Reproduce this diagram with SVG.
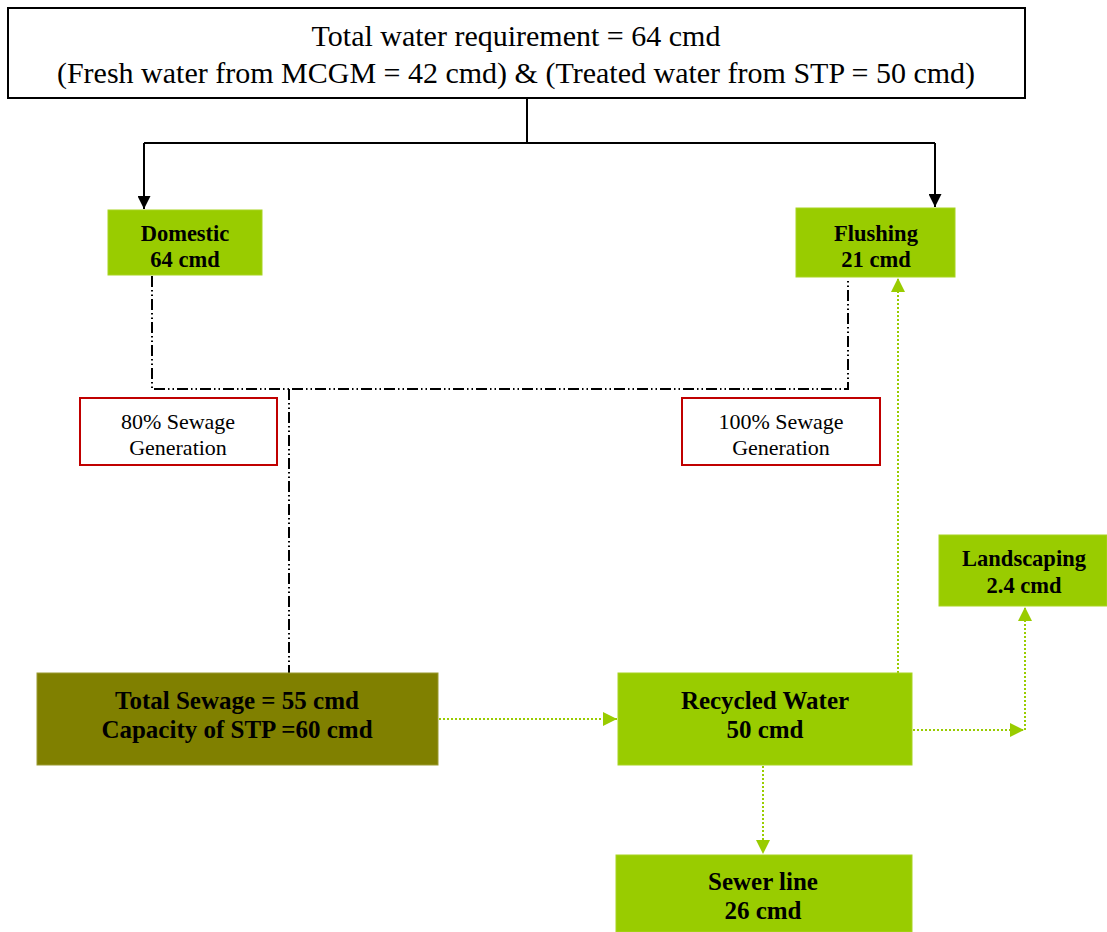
<svg xmlns="http://www.w3.org/2000/svg" width="1107" height="932" viewBox="0 0 1107 932">
<style>
.g{fill:#99CC00;stroke:#A8D420;stroke-width:1}
.o{fill:#808000;stroke:#9a9a30;stroke-width:1}
.r{fill:#fff;stroke:#C00000;stroke-width:2}
.t{font-family:"Liberation Serif",serif;text-anchor:middle;fill:#000}
.b{font-weight:bold;font-size:22.5px}
.bl{font-weight:bold;font-size:25px}
.n{font-size:22px}
.blk{fill:none;stroke:#000;stroke-width:2}
.dd{fill:none;stroke:#000;stroke-width:2;stroke-dasharray:11 3 1.5 3 1.5 3}
.gd{fill:none;stroke:#99CC00;stroke-width:2;stroke-dasharray:2 2}
</style>
<defs>
<marker id="ab" viewBox="0 0 10 10" refX="10" refY="5" markerWidth="15" markerHeight="13" markerUnits="userSpaceOnUse" orient="auto"><path d="M0,0 L10,5 L0,10 Z" fill="#000"/></marker>
<marker id="ag" viewBox="0 0 10 10" refX="10" refY="5" markerWidth="14" markerHeight="14" markerUnits="userSpaceOnUse" orient="auto"><path d="M0,0 L10,5 L0,10 Z" fill="#99CC00"/></marker>
</defs>
<rect width="1107" height="932" fill="#fff"/>
<g id="connectors">
<path class="blk" d="M527,98 V143 M144,143 H935"/>
<path class="blk" d="M144,143 V209" marker-end="url(#ab)"/>
<path class="blk" d="M935,143 V207" marker-end="url(#ab)"/>
<path class="dd" d="M152,276 V389 H848 V278"/>
<path class="dd" d="M289,389 V673"/>
<path class="gd" d="M439,719 H617" marker-end="url(#ag)"/>
<path class="gd" d="M913,730 H1024" marker-end="url(#ag)"/>
<path class="gd" d="M1025,730 V607" marker-end="url(#ag)"/>
<path class="gd" d="M898,673 V278" marker-end="url(#ag)"/>
<path class="gd" d="M763,766 V854" marker-end="url(#ag)"/>
</g>
<g id="top">
<rect x="8" y="8" width="1017" height="90" fill="#fff" stroke="#000" stroke-width="2"/>
<text class="t" x="516" y="46" font-size="30">Total water requirement = 64 cmd</text>
<text class="t" x="516" y="83" font-size="30">(Fresh water from MCGM = 42 cmd) &amp; (Treated water from STP = 50 cmd)</text>
</g>
<g id="domestic">
<rect class="g" x="108" y="210" width="154" height="65"/>
<text class="t b" x="185" y="241">Domestic</text>
<text class="t b" x="185" y="267">64 cmd</text>
</g>
<g id="flushing">
<rect class="g" x="796" y="208" width="159" height="69"/>
<text class="t b" x="876" y="241">Flushing</text>
<text class="t b" x="876" y="267">21 cmd</text>
</g>
<g id="sewage80">
<rect class="r" x="80" y="398" width="197" height="67"/>
<text class="t n" x="178" y="429">80% Sewage</text>
<text class="t n" x="178" y="455">Generation</text>
</g>
<g id="sewage100">
<rect class="r" x="682" y="398" width="198" height="67"/>
<text class="t n" x="781" y="429">100% Sewage</text>
<text class="t n" x="781" y="455">Generation</text>
</g>
<g id="stp">
<rect class="o" x="37" y="673" width="401" height="92"/>
<text class="t bl" x="237" y="709">Total Sewage = 55 cmd</text>
<text class="t bl" x="237" y="738">Capacity of STP =60 cmd</text>
</g>
<g id="recycled">
<rect class="g" x="618" y="673" width="294" height="92"/>
<text class="t bl" x="765" y="709">Recycled Water</text>
<text class="t bl" x="765" y="738">50 cmd</text>
</g>
<g id="landscaping">
<rect class="g" x="939" y="535" width="168" height="71"/>
<text class="t b" x="1024" y="566">Landscaping</text>
<text class="t b" x="1024" y="593">2.4 cmd</text>
</g>
<g id="sewer">
<rect class="g" x="616" y="855" width="296" height="77"/>
<text class="t bl" x="763" y="890">Sewer line</text>
<text class="t bl" x="763" y="919">26 cmd</text>
</g>
</svg>
